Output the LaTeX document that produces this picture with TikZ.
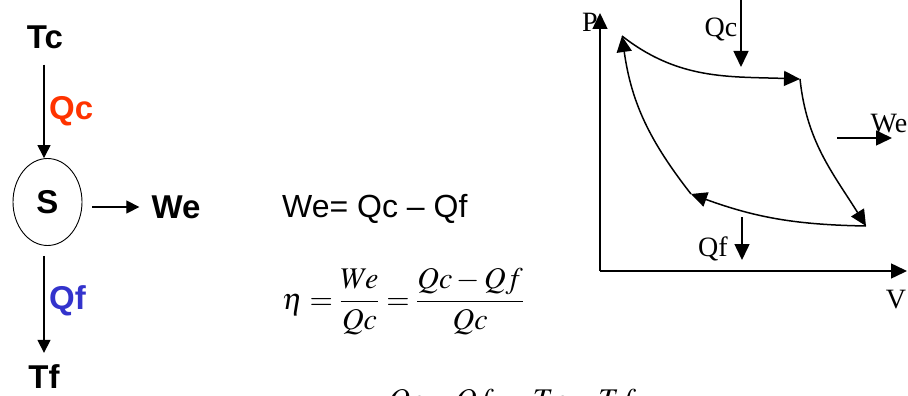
\documentclass[tikz,border=0pt]{standalone}
\usepackage{amsmath}
\usepackage{mathptmx}
\usepackage[no-math]{fontspec}
\setmainfont{Liberation Sans}
\newfontfamily\tnr{Liberation Serif}
\usetikzlibrary{arrows.meta,shapes.geometric}
\definecolor{qcred}{HTML}{FF3300}
\definecolor{qfblue}{HTML}{3333CC}

\begin{document}
\begin{tikzpicture}[x=1pt,y=-1pt,
  lbl/.style={font=\fontsize{33}{36}\selectfont\bfseries,inner sep=0pt},
  pvlbl/.style={font=\fontsize{28}{30}\selectfont\tnr,inner sep=0pt},
  eqn/.style={font=\fontsize{30}{34}\selectfont,inner sep=0pt,anchor=base west},
  flow/.style={-{Triangle[length=13pt,width=13pt]},line width=1.3pt},
  pv/.style={-{Triangle[length=16pt,width=15pt]},line width=1.5pt}]
  \clip (0,0) rectangle (908,396);
  % engine between the two sources
  \node[lbl] (Tc) at (45,37) {Tc};
  \node[lbl,ellipse,draw,line width=0.9pt,minimum width=69pt,minimum height=87pt] (S) at (47.5,202) {S};
  \node[lbl] (We) at (176,207) {We};
  \node[lbl] (Tf) at (44,377) {Tf};
  \node[lbl,qcred,anchor=west] (qcl) at (49,111) {Qc};
  \node[lbl,qfblue,anchor=west] (qfl) at (49,301) {Qf};
  \draw[flow] ([yshift=-16pt]Tc.south -| 44,0) -- (44,0 |- S.north);
  \draw[flow] ([yshift=-10pt]S.south -| Tf.north) -- ([yshift=12pt]Tf.north);
  \draw[flow] ([xshift=10pt]S.east |- We) -- ([xshift=-12pt]We.west);
  % relations
  \node[eqn,font=\fontsize{32}{34}\selectfont] (wsum) at (282,217) {We= Qc -- Qf};
  \node[eqn] (eta) at (282,309) {$\eta=\dfrac{We}{Qc}=\dfrac{Qc-Qf}{Qc}$};
  \node[eqn,anchor=north west] (carnot) at (387,389) {$\dfrac{Qc-Qf}{Qc}=\dfrac{Tc-Tf}{Tc}$};
  % PV diagram
  \coordinate (O) at (600,271);
  \coordinate (Ptip) at (600,13);
  \coordinate (Vtip) at (907,271);
  \draw[pv] (O) -- (Ptip);
  \draw[pv] (O) -- (Vtip);
  \node[pvlbl] (P) at (590,22) {P};
  \node[pvlbl] (V) at (896,300) {V};
  \coordinate (A) at (622,36);
  \coordinate (B) at (800,79);
  \coordinate (C) at (866,226);
  \coordinate (D) at (691,194);
  \draw[pv] (A) to[out=-38,in=178] (B);
  \draw[pv] (B) to[out=-84,in=122] (C);
  \draw[pv] (C) to[out=179,in=-20] (D);
  \draw[pv] (D) to[out=128,in=-82] (A);
  \coordinate (qctop) at (741,0);
  \coordinate (qcend) at (741,67);
  \node[pvlbl] (qcpv) at (721,30) {Qc};
  \draw[pv] (qctop) -- (qcend);
  \coordinate (qftop) at (742,217);
  \coordinate (qfend) at (742,260);
  \node[pvlbl] (qfpv) at (713,249) {Qf};
  \draw[pv] (qftop) -- (qfend);
  \coordinate (wetail) at (837,138);
  \coordinate (wehead) at (892,138);
  \node[pvlbl] (wepv) at (889,124) {We};
  \draw[pv] (wetail) -- (wehead);
\end{tikzpicture}
\end{document}
